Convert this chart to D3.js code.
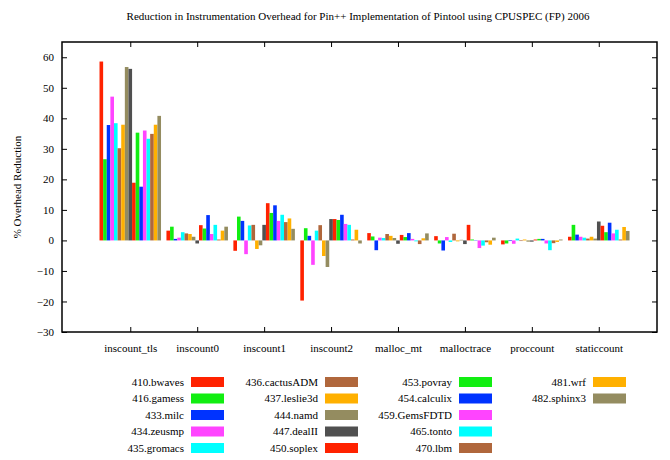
<!DOCTYPE html>
<html><head><meta charset="utf-8">
<script src="https://cdn.jsdelivr.net/npm/d3@7"></script>
<style>body{margin:0;background:#fff}svg{display:block}text{font-family:"Liberation Serif","DejaVu Serif",serif;fill:#000}</style>
</head><body><svg id="c" width="670" height="460"></svg>
<script>
const categories = ["inscount_tls","inscount0","inscount1","inscount2","malloc_mt","malloctrace","proccount","staticcount"];
const seriesNames = ["410.bwaves","416.gamess","433.milc","434.zeusmp","435.gromacs","436.cactusADM","437.leslie3d","444.namd","447.dealII","450.soplex","453.povray","454.calculix","459.GemsFDTD","465.tonto","470.lbm","481.wrf","482.sphinx3"];
const seriesColors = ["#ff2200","#11ee11","#0033ff","#ff44ff","#00ffff","#b0673c","#ffb000","#948c60","#505050","#ff2200","#11ee11","#0033ff","#ff44ff","#00ffff","#b0673c","#ffb000","#948c60"];
// values per series, one per category
const v410 = [58.6, 3.2, -3.4, -19.7, 2.4, 1.4, -1.3, 1.2];
const v416 = [26.6, 4.5, 7.8, 4.0, 1.3, -1.0, -1.0, 5.1];
const v433 = [37.8, 0.5, 6.4, 1.5, -3.2, -3.3, -0.2, 1.9];
const v434 = [47.1, 0.9, -4.5, -8.0, 0.9, 1.1, -1.1, 1.2];
const v435 = [38.4, 2.7, 4.9, 3.2, 0.8, -0.5, 0.6, 0.9];
const v436 = [30.2, 2.3, 5.1, 5.0, 2.1, 2.2, -0.2, 0.6];
const v437 = [37.9, 2.1, -2.8, -5.1, 1.5, -0.3, 0.3, 1.2];
const v444 = [56.8, 1.2, -1.6, -8.7, 0.8, 0.2, -0.4, 0.6];
const v447 = [56.2, -1.0, 5.1, 7.0, -1.1, -1.2, -0.4, 6.2];
const v450 = [18.9, 5.0, 12.2, 7.0, 1.8, 5.1, 0.3, 4.8];
const v453 = [35.3, 3.9, 9.0, 6.7, 1.1, 0.3, 0.5, 2.7];
const v454 = [17.6, 8.3, 11.5, 8.4, 2.4, 0.1, 0.5, 5.8];
const v459 = [36.0, 2.1, 6.4, 5.4, 0.5, -2.5, -1.0, 2.3];
const v465 = [33.3, 5.1, 8.4, 5.1, -0.3, -1.7, -3.2, 3.5];
const v470 = [34.9, 0.3, 6.0, 0.3, -1.2, -0.6, -0.9, 0.3];
const v481 = [37.9, 3.2, 7.2, 3.5, 0.7, -1.4, -0.5, 4.4];
const v482 = [40.8, 4.5, 3.8, -1.0, 2.3, 0.9, 0.3, 3.1];
const seriesValues = [v410,v416,v433,v434,v435,v436,v437,v444,v447,v450,v453,v454,v459,v465,v470,v481,v482];
const yTicks = [-30,-20,-10,0,10,20,30,40,50,60];
const titleText = "Reduction in Instrumentation Overhead for Pin++ Implementation of Pintool using CPUSPEC (FP) 2006";
const yLabel = "% Overhead Reduction";

const svg = d3.select("#c");
const L = 62, R = 657, T = 42, B = 332;
const x = d3.scaleLinear().domain([-1.02, 7.87]).range([L, R]);
const y = d3.scaleLinear().domain([-30, 65]).range([B, T]);
const nS = seriesNames.length;
const bw = 1/18.5;

const g = svg.append("g");
seriesValues.forEach((vals, s) => {
  g.selectAll(null).data(vals).enter().append("rect")
    .attr("x", (d,i) => x(i + (s - (nS-1)/2) * bw - bw/2))
    .attr("width", x(bw) - x(0))
    .attr("y", d => y(Math.max(0,d)))
    .attr("height", d => Math.abs(y(d) - y(0)))
    .attr("fill", seriesColors[s]);
});

// frame
svg.append("rect").attr("x",L).attr("y",T).attr("width",R-L).attr("height",B-T)
  .attr("fill","none").attr("stroke","#000").attr("stroke-width",1.5);

// y axis ticks (inward) + labels
const yAx = d3.axisLeft(y).tickValues(yTicks).tickSize(-5).tickPadding(8).tickFormat(d3.format("d"));
const ya = svg.append("g").attr("transform",`translate(${L},0)`).call(yAx);
ya.select(".domain").remove();
ya.selectAll("text").attr("font-size",11).style("font-family",'"Liberation Serif",serif');
const yAxR = d3.axisRight(y).tickValues(yTicks).tickSize(-5).tickFormat("");
svg.append("g").attr("transform",`translate(${R},0)`).call(yAxR).select(".domain").remove();

// x axis ticks
const catIdx = d3.range(categories.length);
const xAx = d3.axisBottom(x).tickValues(catIdx).tickSize(-5).tickPadding(12).tickFormat(i => categories[i]);
const xa = svg.append("g").attr("transform",`translate(0,${B})`).call(xAx);
xa.select(".domain").remove();
xa.selectAll("text").attr("font-size",11).style("font-family",'"Liberation Serif",serif');
const xAxT = d3.axisTop(x).tickValues(catIdx).tickSize(-5).tickFormat("");
svg.append("g").attr("transform",`translate(0,${T})`).call(xAxT).select(".domain").remove();

// title
svg.append("text").attr("x",358).attr("y",20).attr("text-anchor","middle").attr("font-size",11).text(titleText);
// y label
svg.append("text").attr("transform",`translate(21,${(T+B)/2}) rotate(-90)`).attr("text-anchor","middle").attr("font-size",11).text(yLabel);

// legend
const colTextEnd = [184, 318, 452, 586];
const rowY = [382, 398.5, 415, 431.5, 448];
const lg = svg.append("g");
seriesNames.forEach((n, i) => {
  const c = Math.floor(i/5), r = i%5;
  lg.append("text").attr("x", colTextEnd[c]).attr("y", rowY[r]).attr("dy","0.35em")
    .attr("text-anchor","end").attr("font-size",11).text(n);
  lg.append("rect").attr("x", colTextEnd[c]+7).attr("y", rowY[r]-5).attr("width",33).attr("height",10)
    .attr("fill", seriesColors[i]);
});
</script></body></html>
